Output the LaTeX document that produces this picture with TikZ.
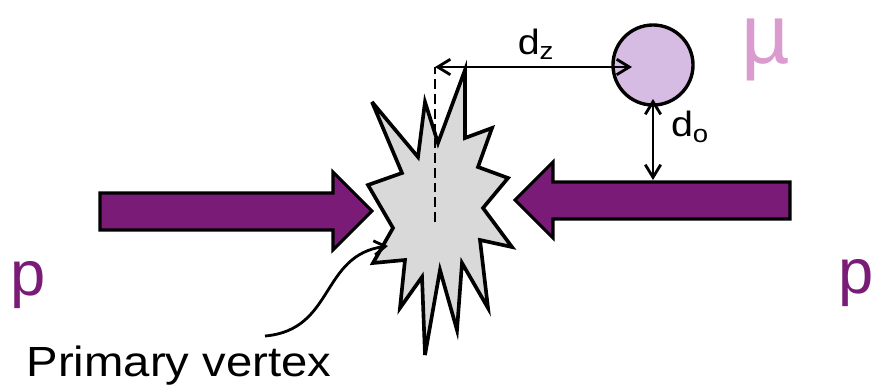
\documentclass[tikz,border=0pt]{standalone}
\usepackage{fontspec}
\setmainfont{Liberation Sans}
\newfontfamily\widesans[FakeStretch=1.12]{Liberation Sans}
\usetikzlibrary{arrows.meta}

\definecolor{beamcol}{RGB}{123,27,120}
\definecolor{mucol}{RGB}{214,188,226}
\definecolor{mulabel}{RGB}{218,156,207}

\begin{document}
\begin{tikzpicture}[x=0.025cm,y=-0.025cm,
 beam/.style={draw=black,line width=2.2pt,fill=beamcol,line join=miter},
 burst/.style={draw=black,line width=2.6pt,fill=gray!30,line join=miter,miter limit=6},
 muon/.style={circle,draw,line width=2.4pt,fill=mucol,minimum size=2cm,inner sep=0pt},
 meas/.style={{Straight Barb[length=9pt,width=11pt]}-{Straight Barb[length=9pt,width=11pt]},line width=2pt},
 dlabel/.style={font=\widesans\fontsize{25}{28}\selectfont,inner sep=0pt},
 plabel/.style={font=\fontsize{45}{50}\selectfont,text=beamcol,inner sep=0pt}]
 \useasboundingbox (0,0) rectangle (875,389);
 % incoming protons
 \draw[beam] (100,193) -- (333,193) -- (333,172) -- (372,211) -- (333,250)
  -- (333,230) -- (100,230) -- cycle;
 \draw[beam] (790,182) -- (553,182) -- (553,162) -- (515,200) -- (553,238)
  -- (553,219) -- (790,219) -- cycle;
 % collision point
 \draw[burst] (465,70) -- (465,138) -- (492,128) -- (478,167) -- (508,178)
  -- (483,208) -- (512,247) -- (480,240) -- (488,308) -- (462,263)
  -- (457,330) -- (440,270) -- (425,355) -- (422,277) -- (400,308)
  -- (405,260) -- (373,263) -- (393,228) -- (368,185) -- (402,173)
  -- (372,102) -- (418,157) -- (425,102) -- (438,143) -- cycle;
 \coordinate (vtx) at (435,222);
 \coordinate (vtxedge) at (388,246);
 \coordinate (dztop) at (435,67);
 % muon and distances
 \node[muon] (mu) at (653,65) {};
 \coordinate (dzend) at (632,67);
 \coordinate (dotop) at (653,99);
 \coordinate (dobot) at (653,180);
 \draw[line width=2pt,dash pattern=on 7pt off 3.5pt] (vtx) -- (dztop);
 \draw[meas] (dztop) -- (dzend);
 \draw[meas] (dotop) -- (dobot);
 \node[dlabel] (dz) at (536,44) {d\textsubscript{z}};
 \node[dlabel] (do) at (690,127) {d\textsubscript{o}};
 \node[font=\fontsize{60}{64}\selectfont,text=mulabel,inner sep=0pt] (mutxt) at (766,50) {µ};
 \node[plabel] (pl) at (28,285) {p};
 \node[plabel] (pr) at (856,283) {p};
 % label for the vertex
 \node[font=\widesans\fontsize{30}{34}\selectfont,inner sep=0pt] (pvtxt) at (179,366) {Primary vertex};
 \draw[-{Straight Barb[length=8pt,width=10pt]},line width=2pt]
  (265,336) .. controls (335,330) and (320,255) .. (vtxedge);
\end{tikzpicture}
\end{document}
